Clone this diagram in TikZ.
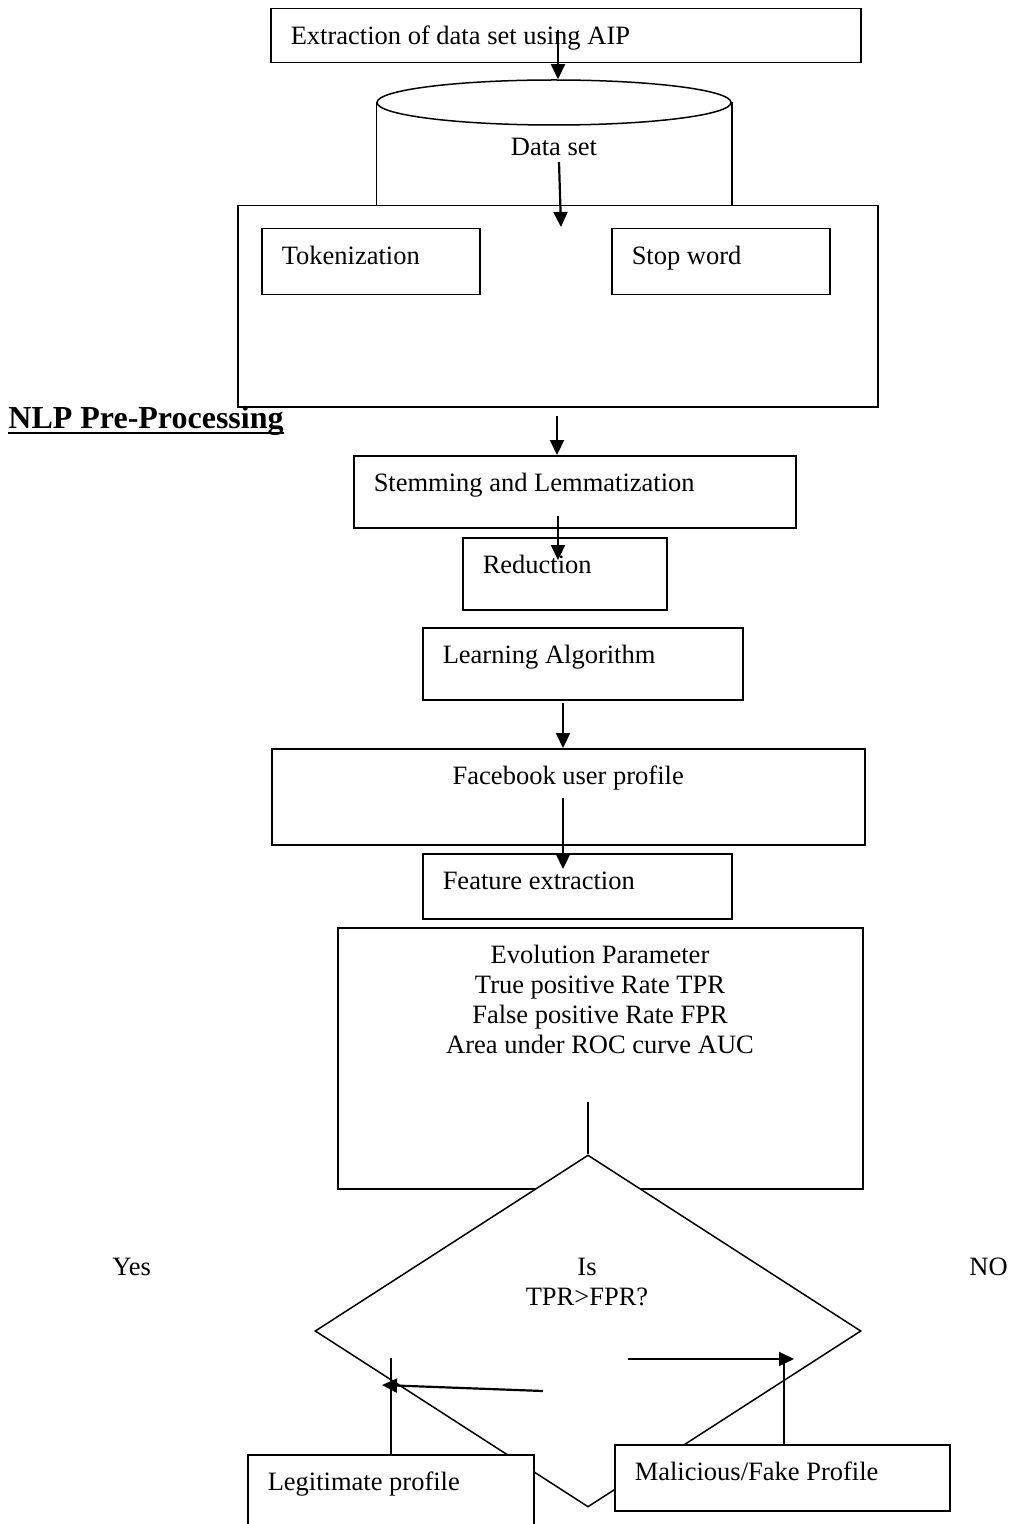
\documentclass[tikz,border=0pt]{standalone}
\usepackage{fontspec}
\setmainfont{Liberation Serif}
\usetikzlibrary{arrows.meta,shapes.geometric}

\begin{document}
\begin{tikzpicture}[x=0.5pt, y=-0.5pt, font=\fontsize{13.25}{15}\selectfont,
        box/.style={draw, fill=white, line width=0.75pt, anchor=north west, inner xsep=10pt, inner ysep=0pt, text height=18pt, align=flush left},
        frame/.style={draw, fill=white, line width=0.75pt, anchor=north west, inner sep=0pt},
        arrow/.style={-{Triangle[length=7.5pt, width=7pt]}, line width=1.1pt},
        link/.style={line width=1.1pt}
    ]
    \useasboundingbox (0,0) rectangle (1016,1524);
    \fill[white] (0,0) rectangle (1016,1524);
    \node[box, text width=275pt, text depth=9pt] (extract) at (270,8) {Extraction of data set using AIP};
    \node[draw, ellipse, line width=0.75pt, minimum width=177pt, minimum height=22.5pt, inner sep=0pt] (dstop) at (554,102.5) {};
    \node[frame, minimum width=320pt, minimum height=100.5pt] (prep) at (237,205) {};
    \draw[line width=0.75pt] (dstop.west) -- (dstop.west |- prep.north);
    \draw[line width=0.75pt] (dstop.east) -- (dstop.east |- prep.north);
    \node (dset) at (554,147) {Data set};
    \node[box, text width=89pt, text depth=15pt] (token) at (261,228) {Tokenization};
    \node[box, text width=89pt, text depth=15pt] (stop) at (611,228) {Stop word};
    \node[anchor=base west, inner sep=0pt, font=\bfseries\fontsize{16}{18}\selectfont] (nlp) at (8,428) {NLP Pre-Processing};
    \draw[line width=1.3pt] ([yshift=-2.5pt]nlp.base west) -- ([yshift=-2.5pt]nlp.base east);
    \node[box, text width=201pt, text depth=18pt] (stem) at (353,455) {Stemming and Lemmatization};
    \node[box, text width=82pt, text depth=18pt] (reduct) at (462,537) {Reduction};
    \node[box, text width=140pt, text depth=18pt] (learn) at (422,627) {Learning Algorithm};
    \node[box, text width=276.5pt, text depth=30pt, align=flush center] (fbuser) at (271,748) {Facebook user profile};
    \node[box, text width=134.5pt, text depth=14.5pt] (feature) at (422,853) {Feature extraction};
    \node[frame, minimum width=262.5pt, minimum height=130.5pt] (evalbox) at (337,927) {};
    \node[anchor=north, inner sep=0pt, align=center] (evaltext) at (600,945) {Evolution Parameter\\True positive Rate TPR\\False positive Rate FPR\\Area under ROC curve AUC};
    \node[draw, diamond, fill=white, line width=0.75pt, minimum width=273pt, minimum height=176pt, inner sep=0pt] (decide) at (588,1331) {};
    \node[align=center, inner sep=0pt] (ask) at (587,1282) {Is\\TPR>FPR?};
    \node[anchor=base west, inner sep=0pt] (yes) at (112,1275) {Yes};
    \node[anchor=base west, inner sep=0pt] (no) at (969,1275) {NO};
    \node[box, text width=147.5pt, text depth=15pt] (malic) at (614,1444) {Malicious/Fake Profile};
    \node[box, text width=123pt, text depth=42pt] (legit) at (247,1454) {Legitimate profile};

    \coordinate (a1s) at (558,30);
    \coordinate (a2s) at (559,162);
    \coordinate (a2e) at (561,227);
    \coordinate (a3s) at (557,416);
    \coordinate (a4s) at (558,516);
    \coordinate (a4e) at (558,560);
    \coordinate (a5s) at (563,703);
    \coordinate (a6s) at (563,798);
    \coordinate (a6e) at (563,869);
    \coordinate (q) at (588,1102);
    \coordinate (ytail) at (543,1391);
    \coordinate (ytip) at (382,1385);
    \coordinate (ytop) at (391,1358);
    \coordinate (ntail) at (628,1359);
    \coordinate (ntip) at (794,1359);
    \coordinate (ntop) at (784,1359);
    \draw[arrow] (a1s) -- (a1s |- dstop.north);
    \draw[arrow] (a2s) -- (a2e);
    \draw[arrow] (a3s) -- (a3s |- stem.north);
    \draw[arrow] (a4s) -- (a4e);
    \draw[arrow] (a5s) -- (a5s |- fbuser.north);
    \draw[arrow] (a6s) -- (a6e);
    \draw[link] (q) -- (decide.north);
    \draw[arrow] (ytail) -- (ytip);
    \draw[link] (legit.north -| ytop) -- (ytop);
    \draw[arrow] (ntail) -- (ntip);
    \draw[link] (malic.north -| ntop) -- (ntop);
\end{tikzpicture}
\end{document}
